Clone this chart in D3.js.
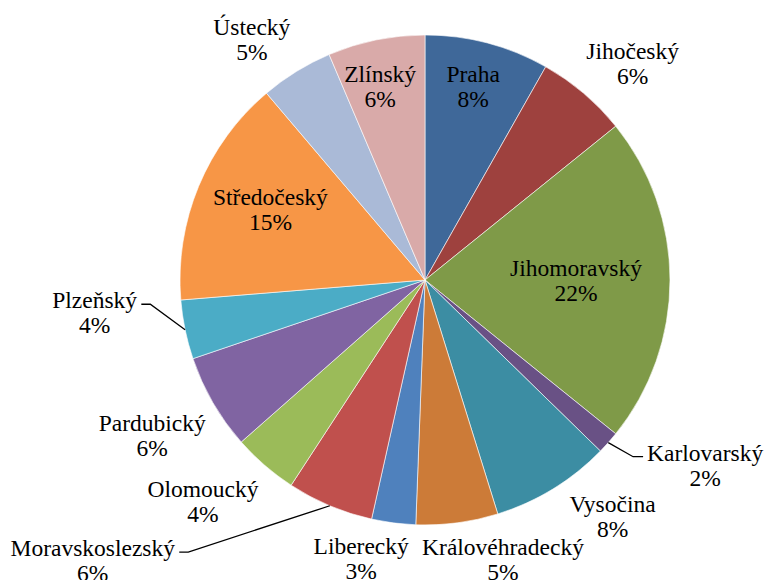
<!DOCTYPE html>
<html><head><meta charset="utf-8">
<script src="https://cdn.jsdelivr.net/npm/d3@7"></script>
<style>body{margin:0;background:#fff}svg{display:block}</style>
</head><body>
<svg id="c" width="766" height="580"></svg>
<script>
const categories = ["Praha","Jihočeský","Jihomoravský","Karlovarský","Vysočina","Královéhradecký","Liberecký","Moravskoslezský","Olomoucký","Pardubický","Plzeňský","Středočeský","Ústecký","Zlínský"];
const values = [8.2,6.0,21.6,1.5,7.9,5.4,2.9,5.7,4.3,6.3,3.9,15.1,4.8,6.4];
const colors = ["#3F6899","#9E413E","#7F9A48","#695185","#3C8DA3","#CC7B38","#4F81BD","#C0504D","#9BBB59","#8064A2","#4BACC6","#F79646","#AABAD7","#D9AAA9"];
// label layout: [angle (deg, clockwise from north), radius] of label block centre
const labelLayout = [[14.0,199],[43.8,300],[90.4,151],[123.5,336],[141.6,302],[164.4,290],[192.9,286],[229.8,435],[225,314],[240.3,314],[264.3,332],[294.6,170],[324.2,296],[346.9,198]];
const leaderSide = {"Karlovarský":"left","Moravskoslezský":"right","Plzeňský":"right"};

const W=766,H=580,cx=425,cy=280,R=245;
const FONT="'Times New Roman','Liberation Serif','Noto Serif','DejaVu Serif',serif";
const svg=d3.select("#c");
const g=svg.append("g").attr("transform",`translate(${cx},${cy})`);
const total=d3.sum(values);
const pie=d3.pie().sort(null).value(d=>d.v);
const data=pie(categories.map((c,i)=>({c,v:values[i],col:colors[i],i})));
const arc=d3.arc().innerRadius(0).outerRadius(R);
g.selectAll("path").data(data).join("path").attr("d",arc).attr("fill",d=>d.data.col).attr("stroke","#fff").attr("stroke-width",0.6);

const fs=23.5, lh=25;
const labels=[];
data.forEach(d=>{
  const [a,r]=labelLayout[d.data.i];
  const rad=a*Math.PI/180;
  const x=r*Math.sin(rad), y=-r*Math.cos(rad);
  const t=g.append("text").attr("x",x).attr("y",y).attr("text-anchor","middle")
    .style("font-family",FONT).style("font-size",fs+"px").attr("fill","#000");
  t.append("tspan").attr("x",x).attr("dy",-lh/2+fs*0.33).style("font-family",FONT).text(d.data.c);
  t.append("tspan").attr("x",x).attr("dy",lh).style("font-family",FONT).text(Math.round(d.data.v/total*100)+"%");
  labels.push({d,t});
});
function drawLeaders(){
  labels.forEach(({d,t})=>{
    const side=leaderSide[d.data.c];
    if(!side) return;
    const first=t.select("tspan").node().getBBox();
    const mid=(d.startAngle+d.endAngle)/2;
    const p0=[R*Math.sin(mid),-R*Math.cos(mid)];
    const ly=first.y+first.height/2+4;
    const ex= side==="left" ? first.x-4 : first.x+first.width+4;
    const bx= side==="left" ? ex-10 : ex+9;
    g.append("polyline").attr("points",[p0,[bx,ly],[ex,ly]].map(p=>p.join(",")).join(" "))
      .attr("fill","none").attr("stroke","#000").attr("stroke-width",1.3);
  });
}
drawLeaders();
</script>
</body></html>
